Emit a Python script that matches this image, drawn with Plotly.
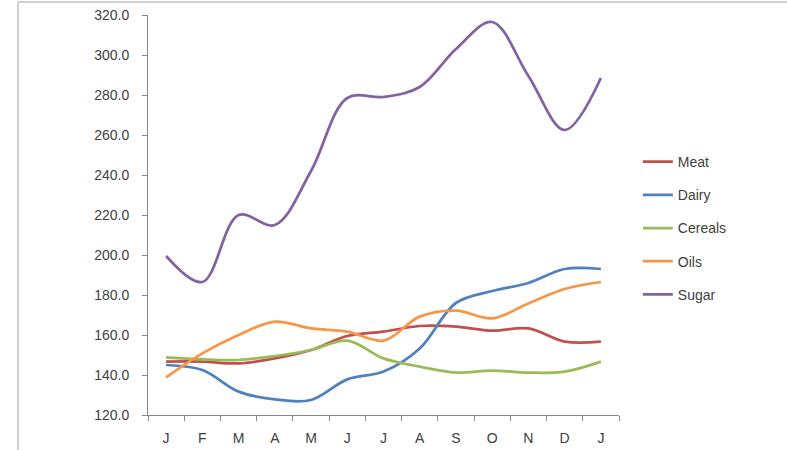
import plotly.graph_objects as go

months = ["J", "F", "M", "A", "M", "J", "J", "A", "S", "O", "N", "D", "J"]
meat = [146.7, 146.7, 145.8, 148.3, 152.5, 159.5, 161.7, 164.5, 164.2, 162.2, 163.3, 156.7, 156.7]
dairy = [145.0, 142.5, 131.7, 127.8, 127.5, 137.8, 141.7, 153.3, 176.0, 182.0, 186.0, 193.0, 193.0]
cereals = [148.8, 147.8, 147.5, 149.5, 152.5, 157.2, 148.3, 144.2, 141.2, 142.2, 141.2, 141.7, 146.7]
oils = [138.8, 150.8, 160.0, 166.7, 163.3, 161.7, 157.2, 169.2, 172.2, 168.3, 175.8, 183.0, 186.5]
sugar = [199.5, 186.5, 220.0, 215.0, 242.0, 278.5, 279.0, 284.0, 303.0, 316.5, 289.5, 262.5, 288.5]

series = [
    ("Meat", meat, "#C0504D"),
    ("Dairy", dairy, "#4F81BD"),
    ("Cereals", cereals, "#9BBB59"),
    ("Oils", oils, "#F79646"),
    ("Sugar", sugar, "#8064A2"),
]

x_idx = list(range(len(months)))

fig = go.Figure()
for name, vals, color in series:
    fig.add_trace(go.Scatter(
        x=x_idx, y=vals, name=name, mode="lines",
        line=dict(color=color, width=2.75, shape="spline", smoothing=1.0),
        legendgroup=name,
    ))

font_fam = "Liberation Sans, Arial, sans-serif"
fig.update_layout(
    width=787, height=450,
    margin=dict(l=148, r=168, t=15, b=35, autoexpand=False),
    paper_bgcolor="white", plot_bgcolor="white",
    font=dict(family=font_fam, size=14, color="#404040"),
    showlegend=True,
    legend=dict(x=1.04, xanchor="left", y=0.4675, yanchor="middle",
                font=dict(size=14, color="#404040"), tracegroupgap=12,
                bgcolor="rgba(0,0,0,0)"),
    xaxis=dict(
        range=[-0.5, 12.5], tickmode="array", tickvals=x_idx, ticktext=months,
        showgrid=False, zeroline=False, showline=True, linecolor="#868686", linewidth=1,
        ticks="", automargin=False,
        tickfont=dict(size=14, color="#404040"),
        ticklabelstandoff=10,
        minor=dict(ticks="outside", ticklen=5, tickcolor="#868686",
                   tickmode="array", tickvals=[i - 0.5 for i in range(14)]),
    ),
    yaxis=dict(
        range=[120, 320], dtick=20, tick0=120, tickformat=".1f",
        showgrid=False, zeroline=False, showline=True, linecolor="#868686", linewidth=1,
        ticks="outside", ticklen=5, tickcolor="#868686", automargin=False,
        tickfont=dict(size=14, color="#404040"),
        ticklabelstandoff=10,
    ),
)

# chart-area frame edges (top and left) as in the cropped reference
fig.add_shape(type="line", xref="paper", yref="paper",
              x0=(18 - 148) / 471, x1=1 + 168 / 471 + 0.01, y0=1 + 13 / 400, y1=1 + 13 / 400,
              line=dict(color="#d0d0d0", width=2))
fig.add_shape(type="line", xref="paper", yref="paper",
              x0=(18 - 148) / 471, x1=(18 - 148) / 471, y0=1 + 13 / 400, y1=-0.1,
              line=dict(color="#d0d0d0", width=2))

fig.write_html("out.html", config={"displayModeBar": False},
               post_script="document.body.style.margin='0';")
